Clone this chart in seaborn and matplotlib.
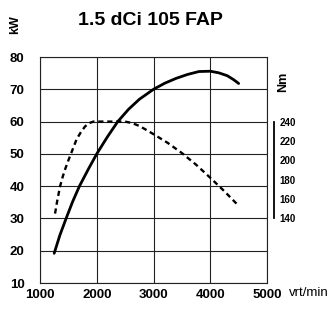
import matplotlib
matplotlib.use("Agg")
import matplotlib.pyplot as plt
import pandas as pd
import seaborn as sns

# power curve (kW)
power_rpm = [1250, 1350, 1460, 1575, 1695, 1850, 2000, 2185, 2370, 2560, 2750, 3000,
             3200, 3400, 3600, 3800, 4000, 4150, 4300, 4410, 4500]
power_kw = [19.2, 24.8, 30, 35.2, 40, 45.2, 50, 55.2, 60, 63.8, 66.9, 70,
            71.9, 73.4, 74.6, 75.5, 75.6, 75.1, 74.2, 73, 71.8]

# torque curve (Nm)
torque_rpm = [1265, 1300, 1353, 1400, 1450, 1500, 1547, 1600, 1647, 1720, 1794, 1870,
              1940, 2500, 2620, 2750, 2870, 3000, 3250, 3500, 3750, 4000, 4250, 4500]
torque_nm = [145, 157, 173, 183, 192, 200, 207, 215, 222, 229, 235, 238.5,
             240, 240, 238.5, 235.5, 231.5, 227, 218, 207.5, 195.5, 182, 168, 153]

kw_ticks = [10, 20, 30, 40, 50, 60, 70, 80]
nm_ticks = [140, 160, 180, 200, 220, 240]
rpm_ticks = [1000, 2000, 3000, 4000, 5000]

sns.set_style("white")
plt.rcParams["font.family"] = ["Liberation Sans", "DejaVu Sans"]
plt.rcParams["text.color"] = "black"
plt.rcParams["xtick.color"] = "black"
plt.rcParams["ytick.color"] = "black"

fig = plt.figure(figsize=(3.3, 3.09), dpi=100)
ax = fig.add_axes([0.1212, 0.0841, 0.688, 0.7314])

df_p = pd.DataFrame({"rpm": power_rpm, "kw": power_kw})
df_t = pd.DataFrame({"rpm": torque_rpm, "nm": torque_nm})

sns.lineplot(data=df_p, x="rpm", y="kw", color="black", lw=2.0, ax=ax)
ax.set_xlim(1000, 5000)
ax.set_ylim(10, 80)
ax.set_xticks(rpm_ticks)
ax.set_yticks(kw_ticks)
ax.grid(True, color="#222222", lw=0.8)
for s in ax.spines.values():
    s.set_color("#222222")
    s.set_linewidth(0.8)
ax.tick_params(length=0, labelsize=9.5)
ax.tick_params(axis="y", pad=11)
ax.tick_params(axis="x", pad=4)
for t in ax.get_xticklabels() + ax.get_yticklabels():
    t.set_fontweight("bold")
ax.set_xlabel("")
ax.set_ylabel("")

ax2 = ax.twinx()
sns.lineplot(data=df_t, x="rpm", y="nm", color="black", lw=1.7, ax=ax2)
ax2.lines[0].set_dashes((2.2, 1.6))
ax2.set_ylim(140 - 20 * 10 / 3, 140 + 50 * 10 / 3)
ax2.set_yticks(nm_ticks)
ax2.set_ylabel("")
for name in ["top", "left", "bottom"]:
    ax2.spines[name].set_visible(False)
ax2.spines["right"].set_position(("outward", 5))
ax2.spines["right"].set_bounds(140, 240)
ax2.spines["right"].set_linewidth(1.3)
ax2.spines["right"].set_color("black")
ax2.tick_params(length=0, labelsize=7, pad=4)
for t in ax2.get_yticklabels():
    t.set_fontweight("bold")

fig.text(0.455, 0.935, "1.5 dCi 105 FAP", ha="center", va="center",
         fontsize=14, fontweight="bold")
fig.text(0.045, 0.92, "kW", rotation=90, ha="center", va="center",
         fontsize=9, fontweight="bold")
fig.text(0.858, 0.735, "Nm", rotation=90, ha="center", va="center",
         fontsize=9, fontweight="bold")
fig.text(0.875, 0.052, "vrt/min", ha="left", va="center", fontsize=9.5)

fig.savefig("out.png", dpi=100)
